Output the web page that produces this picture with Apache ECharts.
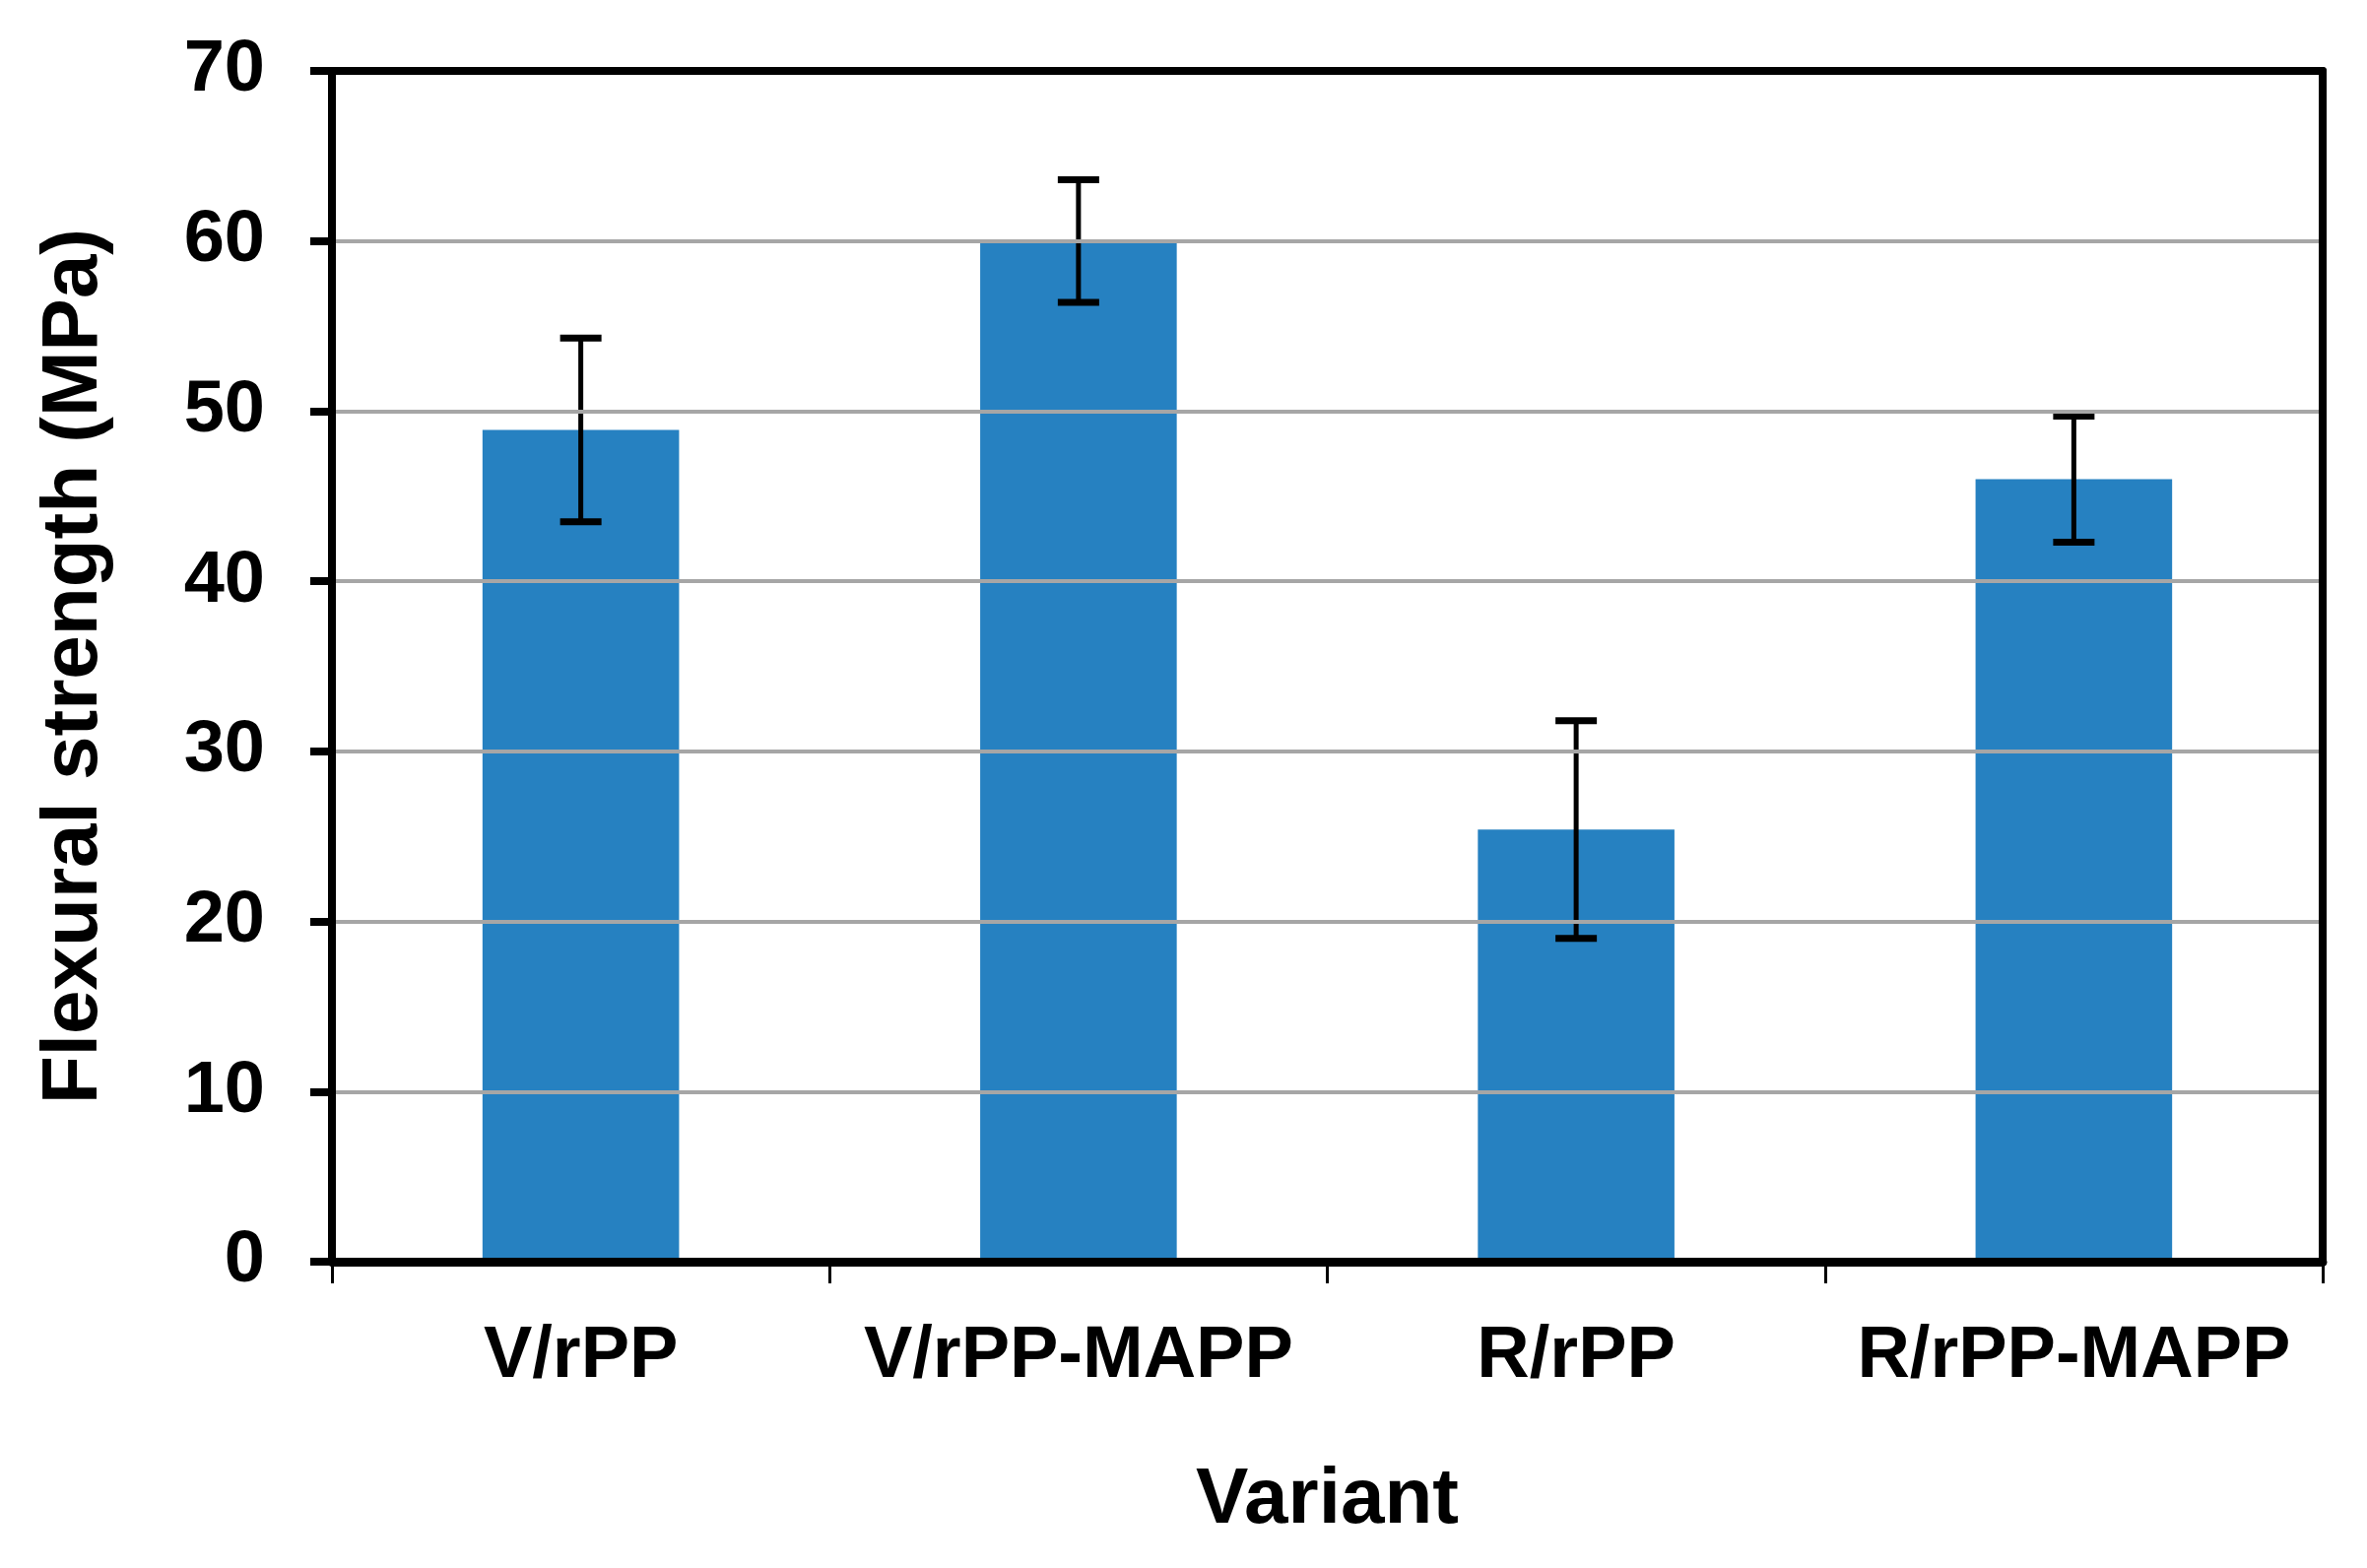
<!DOCTYPE html>
<html>
<head>
<meta charset="utf-8">
<script src="https://cdn.jsdelivr.net/npm/echarts@6/dist/echarts.min.js"></script>
<style>
html,body{margin:0;padding:0;background:#fff;}
#chart{width:2403px;height:1592px;}
</style>
</head>
<body>
<div id="chart"></div>
<script>
const categories = ['V/rPP', 'V/rPP-MAPP', 'R/rPP', 'R/rPP-MAPP'];
const strengthValues = [48.9, 60.0, 25.4, 46.0];
const strengthErrors = [5.4, 3.6, 6.4, 3.7];
const yTicks = [0, 10, 20, 30, 40, 50, 60, 70];

const FONT = '"Liberation Sans", Arial, Helvetica, sans-serif';
const errorData = categories.map((c, i) => [i, strengthValues[i] - strengthErrors[i], strengthValues[i] + strengthErrors[i]]);

const chart = echarts.init(document.getElementById('chart'), null, {renderer: 'canvas'});
chart.setOption({
  animation: false,
  backgroundColor: '#ffffff',
  grid: {
    left: 337, right: 45, top: 72, bottom: 311,
    show: false
  },
  xAxis: [{
    type: 'category',
    data: categories,
    name: 'Variant',
    nameLocation: 'middle',
    nameGap: 203,
    nameTextStyle: {fontFamily: FONT, fontWeight: 'bold', fontSize: 80, color: '#000'},
    axisLine: {show: true, lineStyle: {color: '#000', width: 9}},
    axisTick: {show: true, interval: 0, length: 22, lineStyle: {color: '#000', width: 3}},
    axisLabel: {interval: 0, hideOverlap: false, fontFamily: FONT, fontWeight: 'bold', fontSize: 74, color: '#000', margin: 60},
    splitLine: {show: false},
    z: 5
  }, {
    type: 'category',
    data: categories,
    position: 'top',
    axisLine: {show: true, onZero: false, lineStyle: {color: '#000', width: 8}},
    axisTick: {show: false},
    axisLabel: {show: false},
    splitLine: {show: false},
    z: 5
  }],
  yAxis: [{
    type: 'value',
    min: yTicks[0],
    max: yTicks[yTicks.length - 1],
    interval: 10,
    name: 'Flexural strength (MPa)',
    nameLocation: 'middle',
    nameGap: 221,
    nameTextStyle: {fontFamily: FONT, fontWeight: 'bold', fontSize: 80, color: '#000'},
    axisLine: {show: true, lineStyle: {color: '#000', width: 8}},
    axisTick: {show: true, length: 22, lineStyle: {color: '#000', width: 8}},
    axisLabel: {fontFamily: FONT, fontWeight: 'bold', fontSize: 74, color: '#000', margin: 68},
    splitLine: {show: true, lineStyle: {color: '#a6a6a6', width: 4}},
    z: 5
  }, {
    type: 'value',
    position: 'right',
    min: yTicks[0],
    max: yTicks[yTicks.length - 1],
    interval: 10,
    axisLine: {show: true, onZero: false, lineStyle: {color: '#000', width: 8}},
    axisTick: {show: false},
    axisLabel: {show: false},
    splitLine: {show: false},
    z: 5
  }],
  series: [
    {
      type: 'bar',
      data: strengthValues,
      barWidth: '39.5%',
      itemStyle: {color: '#2681c1'},
      z: 2
    },
    {
      type: 'custom',
      data: errorData,
      z: 3,
      renderItem: function (params, api) {
        const x = api.value(0);
        const lo = api.coord([x, api.value(1)]);
        const hi = api.coord([x, api.value(2)]);
        const hw = 21;
        return {
          type: 'group',
          children: [
            {type: 'line', shape: {x1: hi[0], y1: hi[1], x2: lo[0], y2: lo[1]}, style: {stroke: '#000', lineWidth: 5}},
            {type: 'line', shape: {x1: hi[0] - hw, y1: hi[1], x2: hi[0] + hw, y2: hi[1]}, style: {stroke: '#000', lineWidth: 7}},
            {type: 'line', shape: {x1: lo[0] - hw, y1: lo[1], x2: lo[0] + hw, y2: lo[1]}, style: {stroke: '#000', lineWidth: 7}}
          ]
        };
      }
    }
  ]
});
</script>
</body>
</html>
